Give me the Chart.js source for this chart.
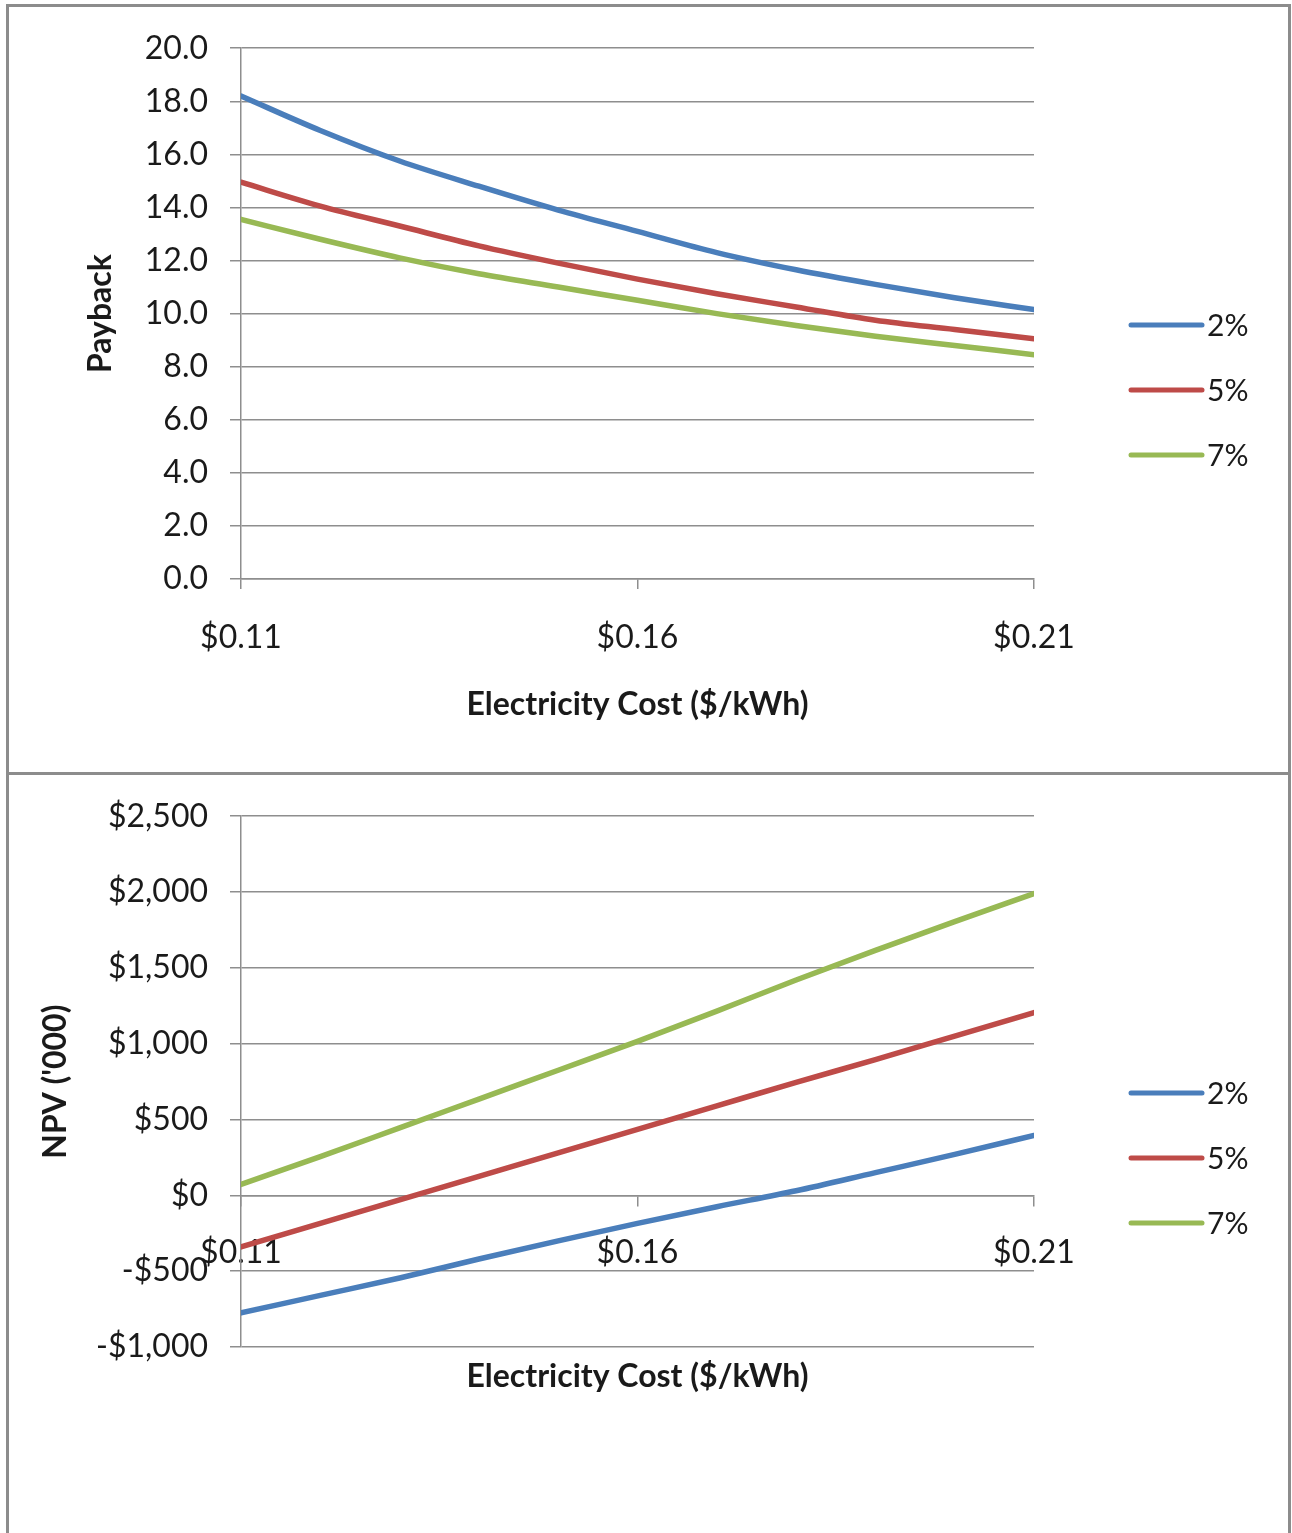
<!DOCTYPE html>
<html>
<head>
<meta charset="utf-8">
<script src="https://cdn.jsdelivr.net/npm/chart.js@4.4.1/dist/chart.umd.min.js"></script>
<style>
  html, body { margin: 0; padding: 0; background: #ffffff; }
  body { width: 1292px; height: 1533px; position: relative; overflow: hidden; }
  .frame { position: absolute; left: 6px; top: 4px; width: 1279px; height: 1540px;
           border: 3px solid #8c8c8c; box-sizing: content-box; }
  .divider { position: absolute; left: 6px; top: 772px; width: 1282px; height: 3px; background: #8c8c8c; }
  canvas { position: absolute; }
  #payback { left: 9px; top: 7px; }
  #npv { left: 9px; top: 775px; }
</style>
</head>
<body>
<div class="frame"></div>
<div class="divider"></div>
<canvas id="payback" width="1276" height="765" style="width:1276px;height:765px"></canvas>
<canvas id="npv" width="1276" height="758" style="width:1276px;height:758px"></canvas>
<script>
// Electricity cost ($/kWh) on the x axis
const costs = [0.11, 0.12, 0.13, 0.14, 0.15, 0.16, 0.17, 0.18, 0.19, 0.20, 0.21];
const xTickValues = [0.11, 0.16, 0.21];
const xTickLabels = ['$0.11', '$0.16', '$0.21'];

// Series names (discount rates)
const rateNames = ['2%', '5%', '7%'];

// Payback (years)
const payback2 = [18.2, 16.9, 15.75, 14.8, 13.9, 13.1, 12.3, 11.65, 11.1, 10.6, 10.15];
const payback5 = [14.95, 14.05, 13.3, 12.55, 11.9, 11.3, 10.75, 10.25, 9.75, 9.4, 9.05];
const payback7 = [13.55, 12.8, 12.1, 11.5, 11.0, 10.5, 10.0, 9.55, 9.15, 8.8, 8.45];
const paybackTickValues = [0, 2, 4, 6, 8, 10, 12, 14, 16, 18, 20];
const paybackTickLabels = ['0.0', '2.0', '4.0', '6.0', '8.0', '10.0', '12.0', '14.0', '16.0', '18.0', '20.0'];

// NPV ('000)
const npv2 = [-775, -660, -545, -420, -300, -185, -75, 30, 150, 270, 395];
const npv5 = [-340, -185, -30, 125, 280, 435, 590, 745, 895, 1050, 1205];
const npv7 = [72, 255, 445, 635, 825, 1015, 1215, 1420, 1615, 1805, 1990];
const npvTickValues = [-1000, -500, 0, 500, 1000, 1500, 2000, 2500];
const npvTickLabels = ['-$1,000', '-$500', '$0', '$500', '$1,000', '$1,500', '$2,000', '$2,500'];

const seriesColors = ['#4a7ebb', '#be4b48', '#98b954'];
const gridColor = '#8e8e8e';
const textColor = '#1a1a1a';

Chart.defaults.font.family = 'Lato, "Open Sans", sans-serif';
Chart.defaults.color = textColor;

function pairs(values) {
  return costs.map((c, i) => ({ x: c, y: values[i] }));
}

function makeDatasets(seriesList) {
  return seriesList.map((vals, i) => ({
    label: rateNames[i],
    data: pairs(vals),
    borderColor: seriesColors[i],
    backgroundColor: seriesColors[i],
    borderWidth: 5.5,
    pointRadius: 0,
    pointHoverRadius: 0,
    cubicInterpolationMode: 'monotone',
    borderCapStyle: 'round',
    borderJoinStyle: 'round',
    fill: false
  }));
}

// Legend drawn at the right: short coloured line followed by the series name
const sideLegend = {
  id: 'sideLegend',
  afterDraw(chart) {
    const ctx = chart.ctx;
    const x1 = 1122, x2 = 1193, centerY = 383, step = 65;
    ctx.save();
    ctx.font = '30px Lato, "Open Sans", sans-serif';
    ctx.textBaseline = 'middle';
    ctx.textAlign = 'left';
    chart.data.datasets.forEach((ds, i) => {
      const y = centerY + (i - 1) * step;
      ctx.strokeStyle = ds.borderColor;
      ctx.lineWidth = 5;
      ctx.lineCap = 'round';
      ctx.beginPath();
      ctx.moveTo(x1, y);
      ctx.lineTo(x2, y);
      ctx.stroke();
      ctx.fillStyle = textColor;
      ctx.fillText(ds.label, x2 + 5, y + 1);
    });
    ctx.restore();
  }
};

function setTicks(values) {
  return scale => { scale.ticks = values.map(v => ({ value: v })); };
}

const tickFont = { size: 32 };
const titleFont = { size: 32, weight: 'bold' };

// Payback chart
new Chart(document.getElementById('payback'), {
  type: 'line',
  data: { datasets: makeDatasets([payback2, payback5, payback7]) },
  options: {
    responsive: false,
    animation: false,
    events: [],
    layout: { padding: { top: 37, right: 251, left: 0, bottom: 0 } },
    plugins: { legend: { display: false }, tooltip: { enabled: false } },
    scales: {
      x: {
        type: 'linear',
        position: 'bottom',
        min: 0.11,
        max: 0.21,
        afterBuildTicks: setTicks(xTickValues),
        afterFit: s => { s.height = 193; },
        ticks: { font: tickFont, padding: 29, maxRotation: 0, autoSkip: false,
                 callback: (v, i) => xTickLabels[i] },
        grid: { drawOnChartArea: false, drawTicks: true, tickLength: 10, color: gridColor, lineWidth: 1.5 },
        border: { display: true, color: gridColor, width: 1.5 },
        title: { display: true, text: 'Electricity Cost ($/kWh)', font: titleFont,
                 padding: { top: 0, bottom: 48 } }
      },
      y: {
        type: 'linear',
        position: 'left',
        min: 0,
        max: 20,
        afterBuildTicks: setTicks(paybackTickValues),
        afterFit: s => { s.width = 232; },
        ticks: { font: tickFont, padding: 22, autoSkip: false,
                 callback: (v, i) => paybackTickLabels[i] },
        grid: { drawTicks: true, tickLength: 11, color: gridColor, lineWidth: 1.5 },
        border: { display: true, color: gridColor, width: 1.5 },
        title: { display: true, text: 'Payback', font: titleFont,
                 padding: { top: 72, bottom: 0 } }
      }
    }
  },
  plugins: [sideLegend]
});

// NPV chart: the cost axis crosses at NPV = 0
new Chart(document.getElementById('npv'), {
  type: 'line',
  data: { datasets: makeDatasets([npv2, npv5, npv7]) },
  options: {
    responsive: false,
    animation: false,
    events: [],
    layout: { padding: { top: 36, right: 251, left: 0, bottom: 0 } },
    plugins: { legend: { display: false }, tooltip: { enabled: false } },
    scales: {
      x: {
        type: 'linear',
        position: 'bottom',
        min: 0.11,
        max: 0.21,
        afterBuildTicks: setTicks(xTickValues),
        afterFit: s => { s.height = 186; },
        ticks: { display: false },
        grid: { display: false },
        border: { display: false },
        title: { display: true, text: 'Electricity Cost ($/kWh)', font: titleFont,
                 padding: { top: 0, bottom: 137 } }
      },
      xCross: {
        type: 'linear',
        axis: 'x',
        position: { y: 0 },
        min: 0.11,
        max: 0.21,
        afterBuildTicks: setTicks(xTickValues),
        ticks: { font: tickFont, padding: 28, maxRotation: 0, autoSkip: false,
                 callback: (v, i) => xTickLabels[i] },
        grid: { drawOnChartArea: false, drawTicks: true, tickLength: 10, color: gridColor, lineWidth: 1.5 },
        border: { display: true, color: gridColor, width: 1.5 }
      },
      y: {
        type: 'linear',
        position: 'left',
        min: -1000,
        max: 2500,
        afterBuildTicks: setTicks(npvTickValues),
        afterFit: s => { s.width = 232; },
        ticks: { font: tickFont, padding: 22, autoSkip: false,
                 callback: (v, i) => npvTickLabels[i] },
        grid: { drawTicks: true, tickLength: 11, color: gridColor, lineWidth: 1.5 },
        border: { display: true, color: gridColor, width: 1.5 },
        title: { display: true, text: "NPV ('000)", font: titleFont,
                 padding: { top: 27, bottom: 0 } }
      }
    }
  },
  plugins: [sideLegend]
});
</script>
</body>
</html>
